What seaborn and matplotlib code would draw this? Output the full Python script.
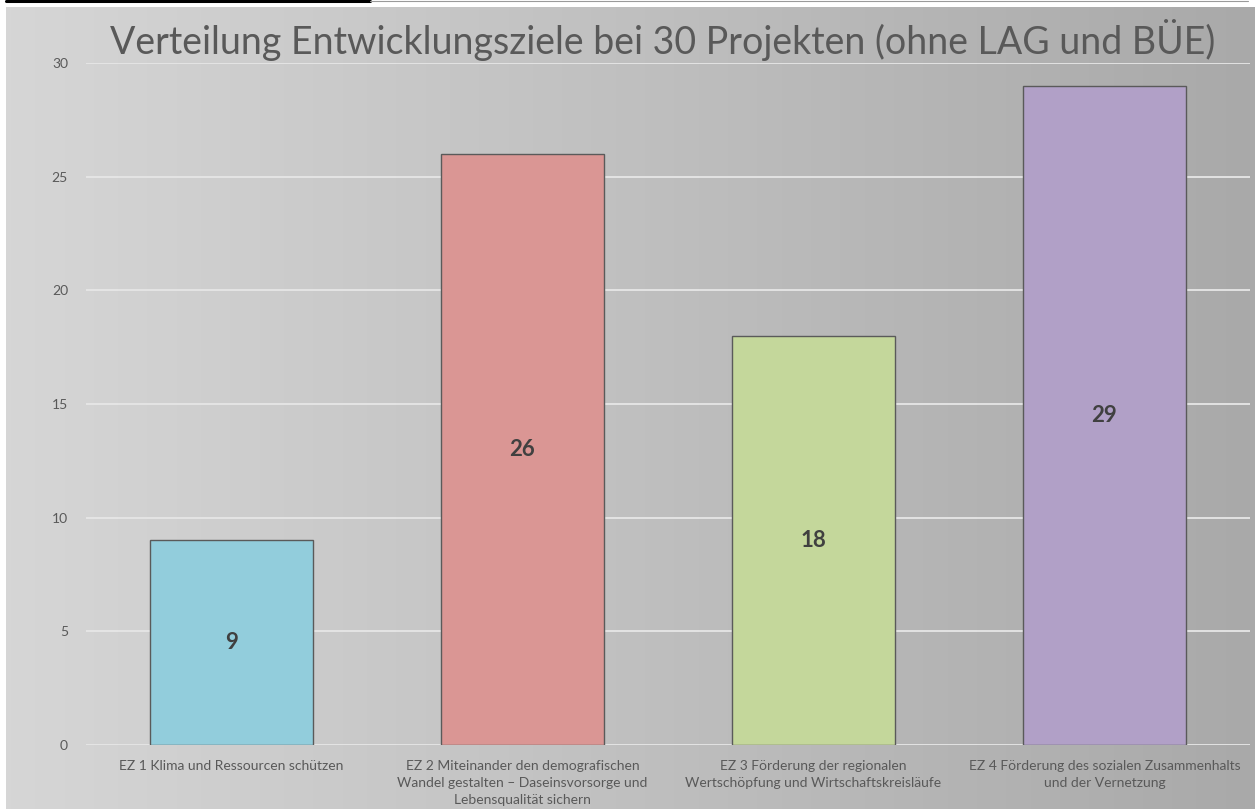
import numpy as np
import matplotlib.pyplot as plt
import seaborn as sns
from matplotlib.lines import Line2D

# chart data
categories = [
    "EZ 1 Klima und Ressourcen schützen",
    "EZ 2 Miteinander den demografischen\nWandel gestalten – Daseinsvorsorge und\nLebensqualität sichern",
    "EZ 3 Förderung der regionalen\nWertschöpfung und Wirtschaftskreisläufe",
    "EZ 4 Förderung des sozialen Zusammenhalts\nund der Vernetzung",
]
values = [9, 26, 18, 29]
bar_colors = ["#92CDDC", "#DA9694", "#C4D79B", "#B1A0C7"]
y_ticks = [0, 5, 10, 15, 20, 25, 30]
title = "Verteilung Entwicklungsziele bei 30 Projekten (ohne LAG und BÜE)"

sns.set_theme(style="white")
plt.rcParams['font.family'] = ['Lato', 'DejaVu Sans']

W, H = 1255, 809
fig = plt.figure(figsize=(W / 100, H / 100), dpi=100)
fig.patch.set_facecolor('white')

# gradient background panel
bg = fig.add_axes([6 / W, 0, 1 - 6 / W, 1 - 7 / H])
grad = np.linspace(0, 1, 256).reshape(1, -1)
bg.imshow(grad, aspect='auto', cmap=sns.blend_palette(["#D6D6D6", "#A9A9A9"], as_cmap=True),
          extent=[0, 1, 0, 1])
bg.set_axis_off()

# top border lines from the screenshot
fig.add_artist(Line2D([6 / W, 370 / W], [1 - 1.2 / H, 1 - 1.2 / H], color='black', lw=2.2))
fig.add_artist(Line2D([370 / W, 1248 / W], [1 - 0.6 / H, 1 - 0.6 / H], color='#9A9A9A', lw=0.8))

ax = fig.add_axes([86 / W, (H - 745) / H, 1164 / W, (745 - 63) / H])
ax.set_facecolor('none')

sns.barplot(x=categories, y=values, hue=categories, palette=bar_colors, legend=False,
            saturation=1, width=0.557, edgecolor='#5A5A5A', linewidth=1.0, ax=ax, zorder=3)

ax.set_ylim(0, 30)
ax.set_xlim(-0.5, 3.5)
ax.set_yticks(y_ticks)
ax.yaxis.grid(True, color='#E6E6E6', linewidth=1.3, zorder=0)
ax.set_axisbelow(True)
for s in ax.spines.values():
    s.set_visible(False)
ax.tick_params(axis='y', length=0, pad=13, labelsize=10, labelcolor='#595959')
ax.tick_params(axis='x', length=0, pad=11, labelsize=10, labelcolor='#595959')
for lbl in ax.get_xticklabels():
    lbl.set_linespacing(1.5)
ax.set_xlabel('')
ax.set_ylabel('')

for i, v in enumerate(values):
    ax.text(i, v / 2, str(v), ha='center', va='center', fontsize=16,
            fontweight='bold', color='#404040', zorder=4)

fig.text(663 / W, 1 - 40 / H, title, ha='center', va='center', fontsize=27, color='#595959')

fig.savefig('out.png', dpi=100)
